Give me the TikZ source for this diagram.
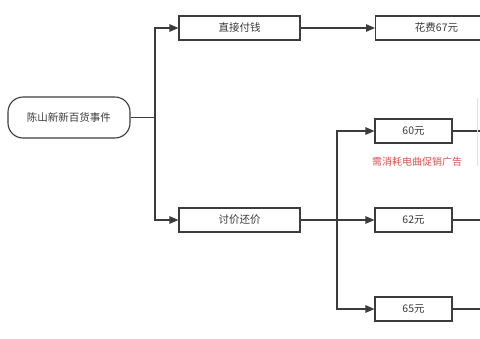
\documentclass[tikz,border=0pt]{standalone}
\usepackage{fontspec}
\newfontfamily\cjk{Noto Sans CJK SC}
\usetikzlibrary{arrows.meta}
\definecolor{ln}{HTML}{3C3C3C}
\definecolor{tx}{HTML}{3A3A3A}
\definecolor{rd}{HTML}{D9534F}
\begin{document}
\begin{tikzpicture}[x=1pt,y=-1pt,
  box/.style={draw=ln,line width=1.1pt,minimum height=24pt,inner sep=0pt,text=tx,font=\cjk\fontsize{10.5}{12}\selectfont},
  conn/.style={draw=ln,line width=1.1pt},
  arr/.style={conn,-{Triangle[length=9pt,width=7.5pt]}}]
\useasboundingbox (0,0) rectangle (480,338);
\clip (0,0) rectangle (480,338);
\fill[white] (0,0) rectangle (480,338);
\node[box,rectangle,rounded corners=15pt,minimum width=122pt,minimum height=41pt] (root) at (69,117.5) {陈山新新百货事件};
\node[box,minimum width=121pt] (pay) at (239.5,28) {直接付钱};
\node[box,minimum width=121pt] (bar) at (239.5,220) {讨价还价};
\node[box,minimum width=122pt,anchor=west] (c67) at (375,28) {花费67元};
\node[box,minimum width=77pt] (p60) at (413.5,131) {60元};
\node[box,minimum width=77pt] (p62) at (413.5,220) {62元};
\node[box,minimum width=77pt] (p65) at (413.5,309) {65元};
\node[text=rd,font=\cjk\fontsize{10}{12}\selectfont] (note) at (417,162) {需消耗电曲促销广告};
\coordinate (j1) at (155,117.5);
\coordinate (j2) at (337,220);
\coordinate (e60) at (482,131);
\coordinate (e62) at (482,220);
\coordinate (e65) at (482,309);
\coordinate (g1) at (477,98);
\coordinate (g2) at (477,166);
\draw[conn] (root.east) -- (j1);
\draw[arr] (j1) |- (pay.west);
\draw[arr] (j1) |- (bar.west);
\draw[arr] (pay.east) -- (c67.west);
\draw[arr] (bar.east) -- (p62.west);
\draw[arr] (j2) |- (p60.west);
\draw[arr] (j2) |- (p65.west);
\draw[conn] (p60.east) -- (e60);
\draw[conn] (p62.east) -- (e62);
\draw[conn] (p65.east) -- (e65);
\draw[black!12,line width=1pt] (g1) -- (g2);
\end{tikzpicture}
\end{document}
